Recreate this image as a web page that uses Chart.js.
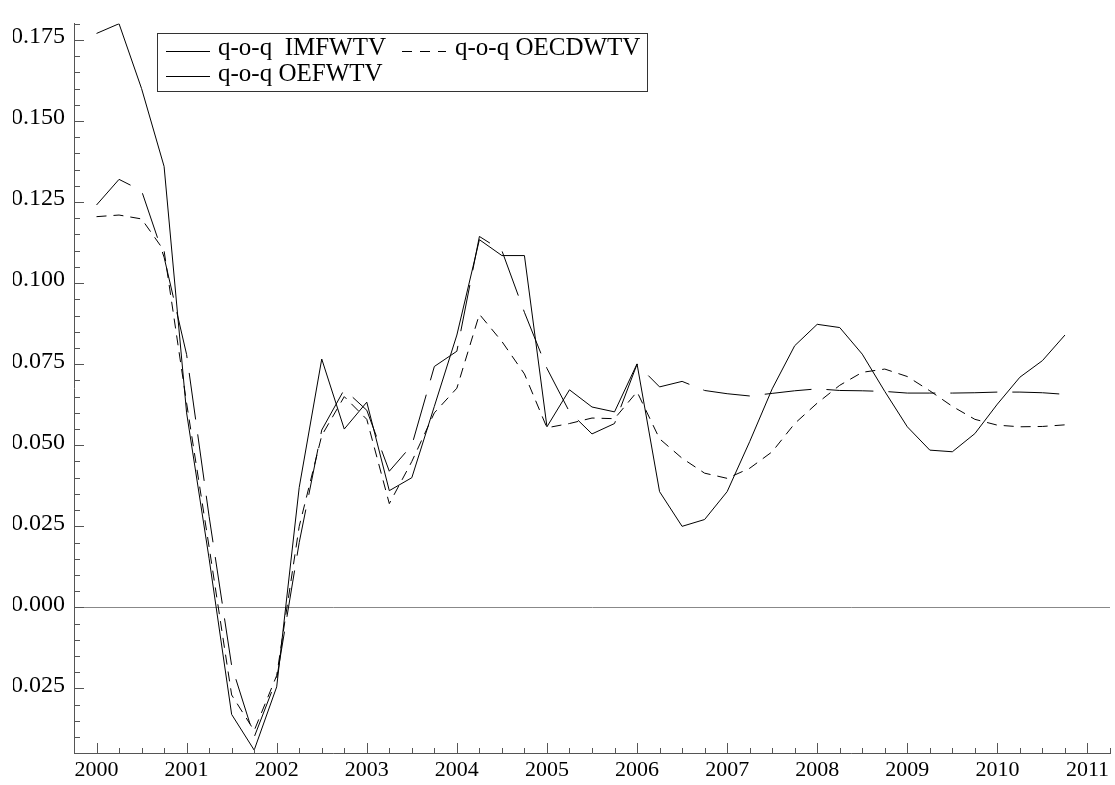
<!DOCTYPE html>
<html>
<head>
<meta charset="utf-8">
<script src="https://cdn.jsdelivr.net/npm/chart.js@4/dist/chart.umd.min.js"></script>
<style>
  html, body { margin: 0; padding: 0; background: #fff; }
  #wrap { position: absolute; left: 13px; top: 0; width: 1102px; height: 785px; overflow: hidden; }
  #chart { position: absolute; left: -13px; top: 0; }
</style>
</head>
<body>
<div id="wrap"><canvas id="chart" width="1115" height="785"></canvas></div>
<script>
// quarterly observations 2000Q1 .. 2010Q4, as decimal years
const quarters = Array.from({ length: 44 }, (_, i) => 2000 + i / 4);

const imfwtv = [0.177, 0.180, 0.160, 0.136, 0.060, 0.015, -0.033, -0.044, -0.0245, 0.037,
  0.0766, 0.055, 0.0633, 0.036, 0.040, 0.062, 0.084, 0.1134, 0.1085, 0.1085,
  0.0557, 0.0671, 0.0618, 0.0603, 0.0751, 0.0357, 0.025, 0.0271, 0.0357, 0.0511,
  0.0674, 0.0807, 0.0873, 0.0863, 0.0781, 0.0666, 0.0557, 0.0485, 0.048, 0.0536,
  0.0627, 0.071, 0.0761, 0.084];

const oecdwtv = [0.1205, 0.121, 0.1198, 0.110, 0.063, 0.0186, -0.027, -0.038, -0.021, 0.025,
  0.053, 0.065, 0.058, 0.032, 0.045, 0.060, 0.0676, 0.0904, 0.082, 0.072,
  0.0554, 0.0567, 0.0584, 0.0582, 0.0665, 0.052, 0.046, 0.0414, 0.0398, 0.0429,
  0.048, 0.0567, 0.063, 0.0685, 0.0725, 0.0735, 0.0712, 0.0668, 0.062, 0.058,
  0.0562, 0.0557, 0.0558, 0.0563];

const oefwtv = [0.1241, 0.132, 0.1285, 0.108, 0.078, 0.028, -0.018, -0.040, -0.022, 0.020,
  0.0547, 0.0672, 0.0608, 0.042, 0.050, 0.0743, 0.079, 0.1144, 0.110, 0.091,
  0.0737, 0.0603, 0.0535, 0.0567, 0.075, 0.068, 0.0697, 0.0669, 0.0659, 0.0652,
  0.066, 0.0668, 0.0674, 0.0669, 0.0668, 0.0666, 0.0661, 0.0661, 0.0661, 0.0662,
  0.0664, 0.0664, 0.0662, 0.0657];

const xTicks = [2000, 2001, 2002, 2003, 2004, 2005, 2006, 2007, 2008, 2009, 2010, 2011];
const yTicks = [-0.025, 0, 0.025, 0.05, 0.075, 0.1, 0.125, 0.15, 0.175];

const serif = '"Liberation Serif", "Times New Roman", serif';

const pts = (vals) => vals.map((v, i) => ({ x: quarters[i], y: v }));

// inward tick marks + boxed legend, like the original plot
const decorations = {
  id: 'decorations',
  afterDraw(chart) {
    const { ctx, chartArea: a, scales: { x, y } } = chart;
    ctx.save();
    ctx.strokeStyle = '#555';
    ctx.lineWidth = 1;
    ctx.beginPath();
    for (let k = 0; k <= 46; k++) {
      const v = x.min + k * 0.25;
      const px = Math.round(x.getPixelForValue(v)) + 0.5;
      const major = Math.abs(v - Math.round(v)) < 1e-6;
      ctx.moveTo(px, a.bottom);
      ctx.lineTo(px, a.bottom - (major ? 10 : 5));
    }
    for (let k = -9; k <= 36; k++) {
      const py = Math.round(y.getPixelForValue(k * 0.005)) + 0.5;
      if (py < a.top || py > a.bottom) continue;
      ctx.moveTo(a.left, py);
      ctx.lineTo(a.left + (k % 5 === 0 ? 10 : 6), py);
    }
    ctx.stroke();

    // legend
    const ds = chart.data.datasets;
    ctx.fillStyle = '#fff';
    ctx.fillRect(157.5, 33.5, 490, 58);
    ctx.strokeStyle = '#333';
    ctx.strokeRect(157.5, 33.5, 490, 58);
    const items = [
      { d: ds[0], lx: 166, tx: 218, ly: 51, by: 55 },
      { d: ds[1], lx: 402, tx: 455, ly: 51, by: 55 },
      { d: ds[2], lx: 166, tx: 218, ly: 76, by: 81 }
    ];
    ctx.font = '25px ' + serif;
    ctx.textBaseline = 'alphabetic';
    items.forEach((it) => {
      ctx.strokeStyle = '#000';
      ctx.setLineDash(it.d.legendDash);
      ctx.beginPath();
      ctx.moveTo(it.lx, it.ly + 0.5);
      ctx.lineTo(it.lx + 44, it.ly + 0.5);
      ctx.stroke();
      ctx.setLineDash([]);
      ctx.fillStyle = '#000';
      ctx.fillText(it.d.label, it.tx, it.by);
    });
    ctx.restore();
  }
};

new Chart(document.getElementById('chart'), {
  type: 'line',
  data: {
    datasets: [
      { label: 'q-o-q  IMFWTV', data: pts(imfwtv), borderDash: [], legendDash: [] },
      { label: 'q-o-q OECDWTV', data: pts(oecdwtv), borderDash: [10, 7], legendDash: [10, 8] },
      { label: 'q-o-q OEFWTV', data: pts(oefwtv), borderDash: [47, 15], legendDash: [] }
    ]
  },
  options: {
    responsive: false,
    animation: false,
    layout: { padding: { top: 19, right: 5, left: 0, bottom: 0 } },
    elements: {
      line: { borderColor: '#000', borderWidth: 1, tension: 0 },
      point: { radius: 0 }
    },
    scales: {
      x: {
        type: 'linear',
        min: 1999.75,
        max: 2011.25,
        afterBuildTicks: (s) => { s.ticks = xTicks.map((v) => ({ value: v })); },
        afterFit: (s) => { s.height = 32; },
        ticks: {
          padding: 4,
          color: '#000',
          font: { family: serif, size: 22 },
          maxRotation: 0,
          callback: (v) => String(v)
        },
        grid: { display: false, drawTicks: false },
        border: { display: true, color: '#555', width: 1 }
      },
      y: {
        min: -0.0449,
        max: 0.1801,
        afterBuildTicks: (s) => { s.ticks = yTicks.map((v) => ({ value: v })); },
        afterFit: (s) => { s.width = 74; },
        ticks: {
          padding: 9,
          labelOffset: -3,
          color: '#000',
          font: { family: serif, size: 24 },
          callback: (v) => v.toFixed(3)
        },
        grid: {
          drawTicks: false,
          color: (c) => (c.tick && c.tick.value === 0 ? '#888' : 'rgba(0,0,0,0)')
        },
        border: { display: true, color: '#555', width: 1 }
      }
    },
    plugins: {
      legend: { display: false },
      tooltip: { enabled: false }
    }
  },
  plugins: [decorations]
});
</script>
</body>
</html>
